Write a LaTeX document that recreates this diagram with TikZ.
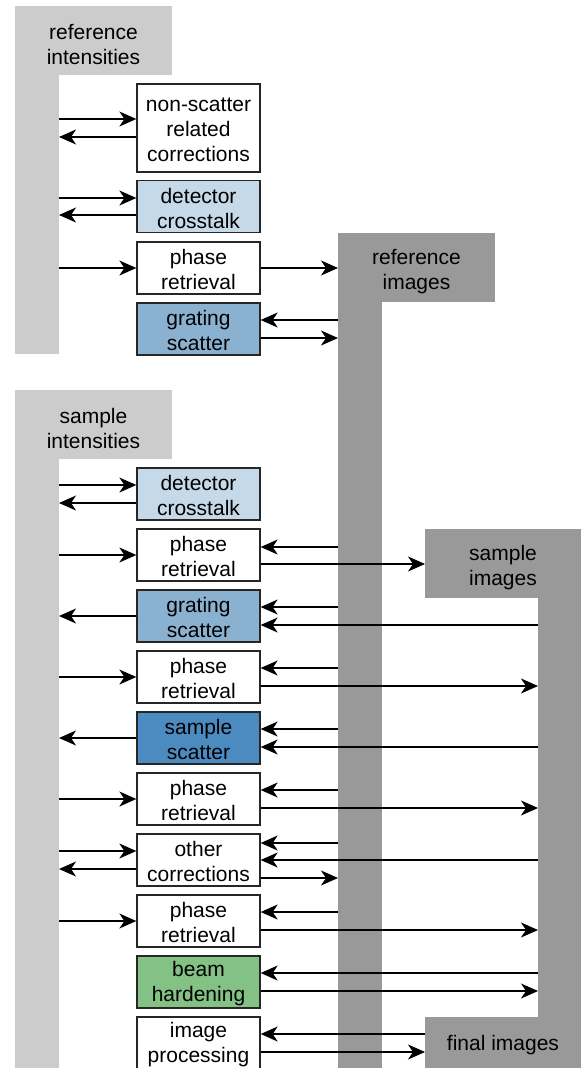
\documentclass[tikz,border=0pt]{standalone}
\usepackage{fontspec}
\setmainfont{Liberation Sans}
\usetikzlibrary{arrows.meta,calc}
\definecolor{lgray}{HTML}{CCCCCC}
\definecolor{dgray}{HTML}{999999}
\definecolor{cblue}{HTML}{C6D9E8}
\definecolor{gblue}{HTML}{8BB1D1}
\definecolor{sblue}{HTML}{4C8BBF}
\definecolor{bgreen}{HTML}{83C184}
\begin{document}
\begin{tikzpicture}[x=1pt,y=-1pt,
  arr/.style={line width=1.3pt,-{Stealth[length=17pt,width=15pt,inset=5pt]}},
  txt/.style={inner sep=0pt,align=center,font=\fontsize{21}{25}\selectfont},
  btxt/.style={txt,yshift=-1.5pt},
  ptxt/.style={txt,yshift=-4pt},
  proc/.style={draw=black!85,line width=1.3pt,minimum width=123pt,minimum height=52pt,inner sep=0pt},
  panel/.style={inner sep=0pt,outer sep=0pt},
  bar/.style={inner sep=0pt,outer sep=0pt,minimum width=44pt}
]
\useasboundingbox (0,0) rectangle (581,1068);
% panels: bars first, then top rectangles
\node[bar,fill=lgray,minimum height=348pt] (rib) at (37,180) {};
\node[panel,fill=lgray,minimum width=157pt,minimum height=69pt,label={[ptxt]center:reference\\intensities}] (rit) at (93.5,40.5) {};
\node[bar,fill=dgray,minimum height=835pt] (rimg) at (360,650.5) {};
\node[panel,fill=dgray,minimum width=157pt,minimum height=69pt,label={[ptxt]center:reference\\images}] (rimt) at (416.5,267.5) {};
\node[bar,fill=lgray,minimum height=678pt] (sib) at (37,729) {};
\node[panel,fill=lgray,minimum width=157pt,minimum height=69pt,label={[ptxt]center:sample\\intensities}] (sit) at (93.5,424.5) {};
\node[bar,fill=dgray,minimum width=43pt,minimum height=488pt] (simg) at (559.5,773) {};
\node[panel,fill=dgray,minimum width=156pt,minimum height=69pt,label={[ptxt]center:sample\\images}] (simt) at (503,563.5) {};
\node[panel,fill=dgray,minimum width=156pt,minimum height=52pt,label={[txt,yshift=-2.5pt]center:final images}] (fin) at (503,1043) {};
% process boxes
\node[proc,fill=white,minimum height=88pt,label={[btxt]center:non-scatter\\related\\corrections}] (ns) at (198.5,128) {};
\node[proc,fill=cblue,label={[btxt]center:detector\\crosstalk}] (rdc) at (198.5,206.5) {};
\node[proc,fill=white,label={[btxt]center:phase\\retrieval}] (rpr) at (198.5,268) {};
\node[proc,fill=gblue,label={[btxt]center:grating\\scatter}] (rgs) at (198.5,329) {};
\node[proc,fill=cblue,label={[btxt]center:detector\\crosstalk}] (sdc) at (198.5,494) {};
\node[proc,fill=white,label={[btxt]center:phase\\retrieval}] (pra) at (198.5,555) {};
\node[proc,fill=gblue,label={[btxt]center:grating\\scatter}] (sgs) at (198.5,616) {};
\node[proc,fill=white,label={[btxt]center:phase\\retrieval}] (prb) at (198.5,677) {};
\node[proc,fill=sblue,label={[btxt]center:sample\\scatter}] (ss) at (198.5,738) {};
\node[proc,fill=white,label={[btxt]center:phase\\retrieval}] (prc) at (198.5,799) {};
\node[proc,fill=white,label={[btxt]center:other\\corrections}] (oc) at (198.5,860) {};
\node[proc,fill=white,label={[btxt]center:phase\\retrieval}] (prd) at (198.5,921) {};
\node[proc,fill=bgreen,label={[btxt]center:beam\\hardening}] (bh) at (198.5,982) {};
\node[proc,fill=white,label={[btxt]center:image\\processing}] (ip) at (198.5,1043) {};
% reference group connectors
\draw[arr] ($(rib.east|-ns.west)+(0,-9)$) -- ($(ns.west)+(0,-9)$);
\draw[arr] ($(ns.west)+(0,9)$) -- ($(rib.east|-ns.west)+(0,9)$);
\draw[arr] ($(rib.east|-rdc.west)+(0,-8.5)$) -- ($(rdc.west)+(0,-8.5)$);
\draw[arr] ($(rdc.west)+(0,8.5)$) -- ($(rib.east|-rdc.west)+(0,8.5)$);
\draw[arr] (rib.east|-rpr.west) -- (rpr.west);
\draw[arr] (rpr.east) -- (rimg.west|-rpr.east);
\draw[arr] ($(rimg.west|-rgs.east)+(0,-9)$) -- ($(rgs.east)+(0,-9)$);
\draw[arr] ($(rgs.east)+(0,9)$) -- ($(rimg.west|-rgs.east)+(0,9)$);
% sample group connectors
\draw[arr] ($(sib.east|-sdc.west)+(0,-9)$) -- ($(sdc.west)+(0,-9)$);
\draw[arr] ($(sdc.west)+(0,9)$) -- ($(sib.east|-sdc.west)+(0,9)$);
\draw[arr] (sib.east|-pra.west) -- (pra.west);
\draw[arr] ($(rimg.west|-pra.east)+(0,-8)$) -- ($(pra.east)+(0,-8)$);
\draw[arr] ($(pra.east)+(0,9)$) -- ($(simt.west|-pra.east)+(0,9)$);
\draw[arr] (sgs.west) -- (sib.east|-sgs.west);
\draw[arr] ($(rimg.west|-sgs.east)+(0,-9)$) -- ($(sgs.east)+(0,-9)$);
\draw[arr] ($(simg.west|-sgs.east)+(0,9)$) -- ($(sgs.east)+(0,9)$);
\draw[arr] (sib.east|-prb.west) -- (prb.west);
\draw[arr] ($(rimg.west|-prb.east)+(0,-9)$) -- ($(prb.east)+(0,-9)$);
\draw[arr] ($(prb.east)+(0,9)$) -- ($(simg.west|-prb.east)+(0,9)$);
\draw[arr] (ss.west) -- (sib.east|-ss.west);
\draw[arr] ($(rimg.west|-ss.east)+(0,-9)$) -- ($(ss.east)+(0,-9)$);
\draw[arr] ($(simg.west|-ss.east)+(0,9)$) -- ($(ss.east)+(0,9)$);
\draw[arr] (sib.east|-prc.west) -- (prc.west);
\draw[arr] ($(rimg.west|-prc.east)+(0,-9)$) -- ($(prc.east)+(0,-9)$);
\draw[arr] ($(prc.east)+(0,9)$) -- ($(simg.west|-prc.east)+(0,9)$);
\draw[arr] ($(sib.east|-oc.west)+(0,-9)$) -- ($(oc.west)+(0,-9)$);
\draw[arr] ($(oc.west)+(0,9)$) -- ($(sib.east|-oc.west)+(0,9)$);
\draw[arr] ($(rimg.west|-oc.east)+(0,-17)$) -- ($(oc.east)+(0,-17)$);
\draw[arr] (simg.west|-oc.east) -- (oc.east);
\draw[arr] ($(oc.east)+(0,18)$) -- ($(rimg.west|-oc.east)+(0,18)$);
\draw[arr] (sib.east|-prd.west) -- (prd.west);
\draw[arr] ($(rimg.west|-prd.east)+(0,-9)$) -- ($(prd.east)+(0,-9)$);
\draw[arr] ($(prd.east)+(0,9)$) -- ($(simg.west|-prd.east)+(0,9)$);
\draw[arr] ($(simg.west|-bh.east)+(0,-9)$) -- ($(bh.east)+(0,-9)$);
\draw[arr] ($(bh.east)+(0,9)$) -- ($(simg.west|-bh.east)+(0,9)$);
\draw[arr] ($(fin.west|-ip.east)+(0,-9)$) -- ($(ip.east)+(0,-9)$);
\draw[arr] ($(ip.east)+(0,9)$) -- ($(fin.west|-ip.east)+(0,9)$);
\end{tikzpicture}
\end{document}
